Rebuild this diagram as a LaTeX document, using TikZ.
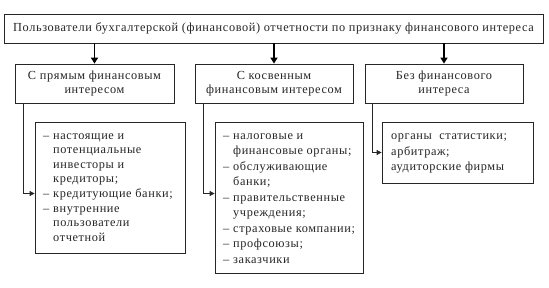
\documentclass[tikz,border=0pt]{standalone}
\usepackage{fontspec}
\setmainfont{Liberation Serif}[LetterSpace=5]
\newfontfamily\tnr{Liberation Serif}[LetterSpace=5]
\usetikzlibrary{arrows.meta}
\newcommand\itm{\makebox[10pt][l]{–}}
\newcommand\cnt{\hspace*{10pt}}
\begin{document}
\begin{tikzpicture}[x=1pt,y=-1pt,
  every node/.style={font=\tnr\fontsize{12.3}{14.2}\selectfont, text=black!85},
  box/.style={draw=black!85, line width=0.8pt, rectangle, inner sep=0pt},
  lbl/.style={inner sep=0pt, anchor=base west, align=left},
  bigarrow/.style={draw=black, line width=1.6pt, -{Triangle[length=6pt,width=7pt]}},
  smallarrow/.style={draw=black!85, line width=0.8pt, -{Triangle[length=5pt,width=5pt]}}]
\useasboundingbox[fill=white] (0,0) rectangle (549,287);
% top box
\node[box, minimum width=539pt, minimum height=29pt] (top) at (273.5,28.5)
  {Пользователи бухгалтерской (финансовой) отчетности по признаку финансового интереса};
% second row
\node[box, minimum width=159pt, minimum height=39pt, align=center] (b1) at (94.5,83.5)
  {С прямым финансовым\\интересом};
\node[box, minimum width=158pt, minimum height=39pt, align=center] (b2) at (274,83.5)
  {С косвенным\\финансовым интересом};
\node[box, minimum width=158pt, minimum height=39pt, align=center] (b3) at (444,83.5)
  {Без финансового\\интереса};
% lower boxes
\node[box, minimum width=150pt, minimum height=131pt] (l1) at (110,187.5) {};
\node[box, minimum width=148pt, minimum height=151pt] (l2) at (289,197.5) {};
\node[box, minimum width=151pt, minimum height=61pt] (l3) at (457.5,152.5) {};
% text blocks: anchor is the baseline of the last line
\node[lbl, font=\tnr\fontsize{12.3}{14.6}\selectfont] (t1) at (43,241.2) {\itm настоящие и\\\cnt потенциальные\\\cnt инвесторы и\\\cnt кредиторы;\\\itm кредитующие банки;\\\itm внутренние\\\cnt пользователи\\\cnt отчетной};
\node[lbl, font=\tnr\fontsize{12.3}{15.5}\selectfont] (t2) at (223,263) {\itm налоговые и\\\cnt финансовые органы;\\\itm обслуживающие\\\cnt банки;\\\itm правительственные\\\cnt учреждения;\\\itm страховые компании;\\\itm профсоюзы;\\\itm заказчики};
\node[lbl, font=\tnr\fontsize{12.3}{15.5}\selectfont] (t3) at (391,170.5) {органы\ \ статистики;\\арбитраж;\\аудиторские фирмы};
% arrows
\draw[bigarrow] (b1.north |- top.south) -- (b1.north);
\draw[bigarrow] (b2.north |- top.south) -- (b2.north);
\draw[bigarrow] (b3.north |- top.south) -- (b3.north);
\draw[smallarrow] ([xshift=9pt]b1.south west) |- ([yshift=-6pt]l1.west);
\draw[smallarrow] ([xshift=9pt]b2.south west) |- ([yshift=4pt]l2.west);
\draw[smallarrow] ([xshift=8pt]b3.south west) |- (l3.west);
\end{tikzpicture}
\end{document}
